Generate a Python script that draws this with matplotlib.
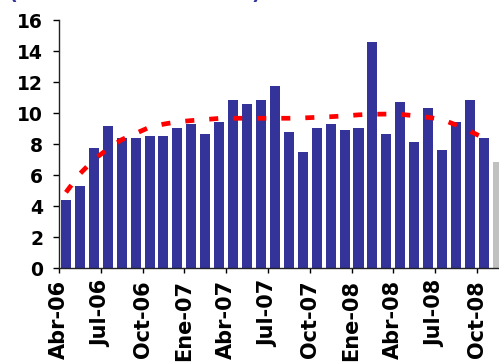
import matplotlib
matplotlib.use("Agg")
import matplotlib.pyplot as plt
import matplotlib.transforms as mtransforms
import numpy as np

# Monthly series, Apr-06 .. Oct-08, plus the provisional Nov-08 figure
months = ["Abr-06", "May-06", "Jun-06", "Jul-06", "Ago-06", "Sep-06", "Oct-06", "Nov-06", "Dic-06",
          "Ene-07", "Feb-07", "Mar-07", "Abr-07", "May-07", "Jun-07", "Jul-07", "Ago-07", "Sep-07",
          "Oct-07", "Nov-07", "Dic-07", "Ene-08", "Feb-08", "Mar-08", "Abr-08", "May-08", "Jun-08",
          "Jul-08", "Ago-08", "Sep-08", "Oct-08"]
values = [4.41, 5.31, 7.76, 9.18, 8.41, 8.41, 8.54, 8.54, 9.05, 9.31, 8.67, 9.44,
          10.86, 10.60, 10.86, 11.76, 8.80, 7.51, 9.05, 9.31, 8.92, 9.05, 14.60, 8.67,
          10.73, 8.15, 10.34, 7.63, 9.44, 10.86, 8.41]
trend = [4.9, 6.1, 7.0, 7.7, 8.3, 8.7, 9.1, 9.3, 9.45, 9.53, 9.6, 9.67,
         9.68, 9.68, 9.68, 9.68, 9.68, 9.7, 9.74, 9.78, 9.83, 9.9, 9.94, 9.95,
         9.93, 9.85, 9.74, 9.6, 9.25, 8.85, 8.4]
extra_label = "Nov-08"
extra_value = 6.86
tick_labels = months[::3]

W, H, DPI = 499, 363, 100
fig = plt.figure(figsize=(W / DPI, H / DPI), dpi=DPI)
ax = fig.add_axes([59 / W, (H - 268.3) / H, 1 - 59 / W, (268.3 - 20.3) / H])

navy = "#333399"
n = len(values)
x = np.arange(n)
bar_w = 0.72
ax.bar(x + 0.5, values, width=bar_w, color=navy, zorder=2)
ax.bar(n + 0.5, extra_value, width=bar_w, color="#C0C0C0", zorder=2)

line, = ax.plot(x + 0.5, trend, color="#FF0000", lw=3.4, solid_capstyle="butt",
                dash_capstyle="butt", zorder=3)
line.set_dashes((6.5 / 3.4, 10.8 / 3.4))

ax.set_xlim(0, (W - 59) / 13.93)
ax.set_ylim(0, 16)
ax.set_yticks(np.arange(0, 17, 2))
ax.set_xticks(np.arange(0, n, 3))
ax.set_xticklabels(tick_labels, rotation=90, fontsize=15, fontweight="bold")
for lab in ax.get_yticklabels():
    lab.set_fontsize(13.5)
    lab.set_fontweight("bold")

shift = mtransforms.ScaledTranslation(5 / DPI, 0, fig.dpi_scale_trans)
for lab in ax.get_xticklabels():
    lab.set_transform(lab.get_transform() + shift)

ax.tick_params(axis="y", direction="out", length=4.5, width=1, pad=7, colors="black")
ax.tick_params(axis="x", direction="out", length=3.5, width=1, pad=5, colors="black")
for side in ("top", "right"):
    ax.spines[side].set_visible(False)
for side in ("left", "bottom"):
    ax.spines[side].set_linewidth(1)
    ax.spines[side].set_color("#222222")

# Heading above the plot area
fig.text(8 / W, 1 - 3.5 / H, "(", color=navy, fontsize=14, fontweight="bold", va="bottom", ha="left")
fig.text(251 / W, 1 - 3.5 / H, ")", color=navy, fontsize=14, fontweight="bold", va="bottom", ha="left")

fig.savefig("out.png", dpi=DPI)
